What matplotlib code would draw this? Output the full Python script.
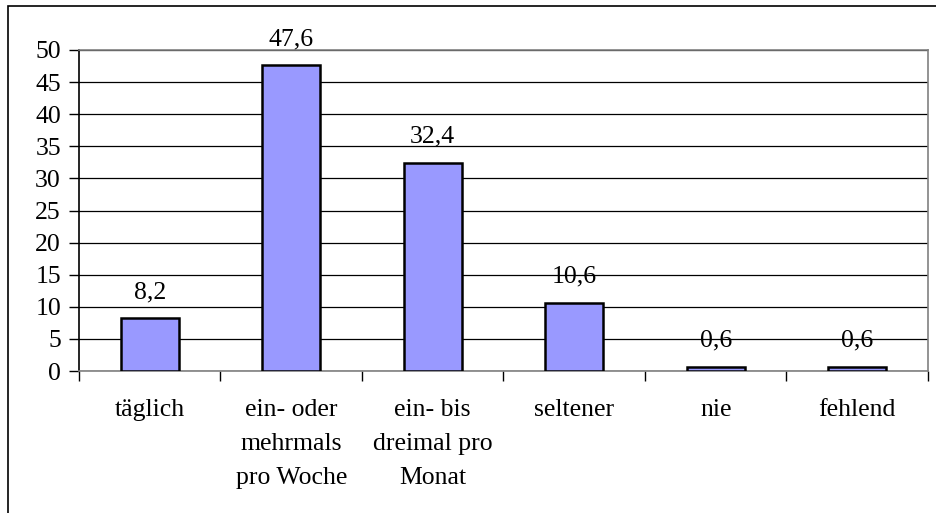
import matplotlib
matplotlib.use('Agg')
import matplotlib.pyplot as plt
from matplotlib.patches import Rectangle

# Daten
categories = ['täglich', 'ein- oder\nmehrmals\npro Woche', 'ein- bis\ndreimal pro\nMonat',
              'seltener', 'nie', 'fehlend']
values = [8.2, 47.6, 32.4, 10.6, 0.6, 0.6]
value_labels = ['8,2', '47,6', '32,4', '10,6', '0,6', '0,6']
y_ticks = [0, 5, 10, 15, 20, 25, 30, 35, 40, 45, 50]

plt.rcParams['font.family'] = ['Liberation Serif', 'DejaVu Serif']
FS = 18.5

fig = plt.figure(figsize=(9.37, 5.13), dpi=100)
ax = fig.add_axes([79 / 937, 1 - 371 / 513, (928 - 79) / 937, (371 - 50) / 513])

# Rahmen um das ganze Diagramm
fig.patches.append(Rectangle((8 / 937, -0.05), 1.0, 1 - 6 / 513 + 0.05,
                             transform=fig.transFigure, fill=False,
                             edgecolor='black', linewidth=1.2))

x = list(range(len(categories)))
ax.bar(x, values, width=0.41, color='#9999FF', edgecolor='black', linewidth=1.8, zorder=3)

for xi, v, lab in zip(x, values, value_labels):
    ax.annotate(lab, (xi, v), xytext=(0, 11), textcoords='offset points',
                ha='center', va='bottom', fontsize=FS, zorder=4)

ax.set_xlim(-0.5, len(categories) - 0.5)
ax.set_ylim(0, 50)
ax.set_yticks(y_ticks)
ax.yaxis.grid(True, color='black', linewidth=0.9, zorder=0)
ax.set_axisbelow(True)

# Kategorieachse: Ticks an den Grenzen, Beschriftung mittig
ax.set_xticks([i - 0.5 for i in range(len(categories) + 1)])
ax.set_xticklabels([])
ax.set_xticks(x, minor=True)
ax.set_xticklabels(categories, minor=True, fontsize=FS, linespacing=1.72)
ax.tick_params(axis='x', which='minor', length=0, pad=20)
ax.tick_params(axis='x', which='major', length=7, width=1, color='black', direction='out')
ax.tick_params(axis='y', length=7, width=1, direction='out', labelsize=FS, pad=6)

ax.spines['left'].set_color('black')
ax.spines['left'].set_linewidth(1.2)
for s in ['top', 'right', 'bottom']:
    ax.spines[s].set_color('#808080')
    ax.spines[s].set_linewidth(1.2)

plt.savefig('out.png', dpi=100)
